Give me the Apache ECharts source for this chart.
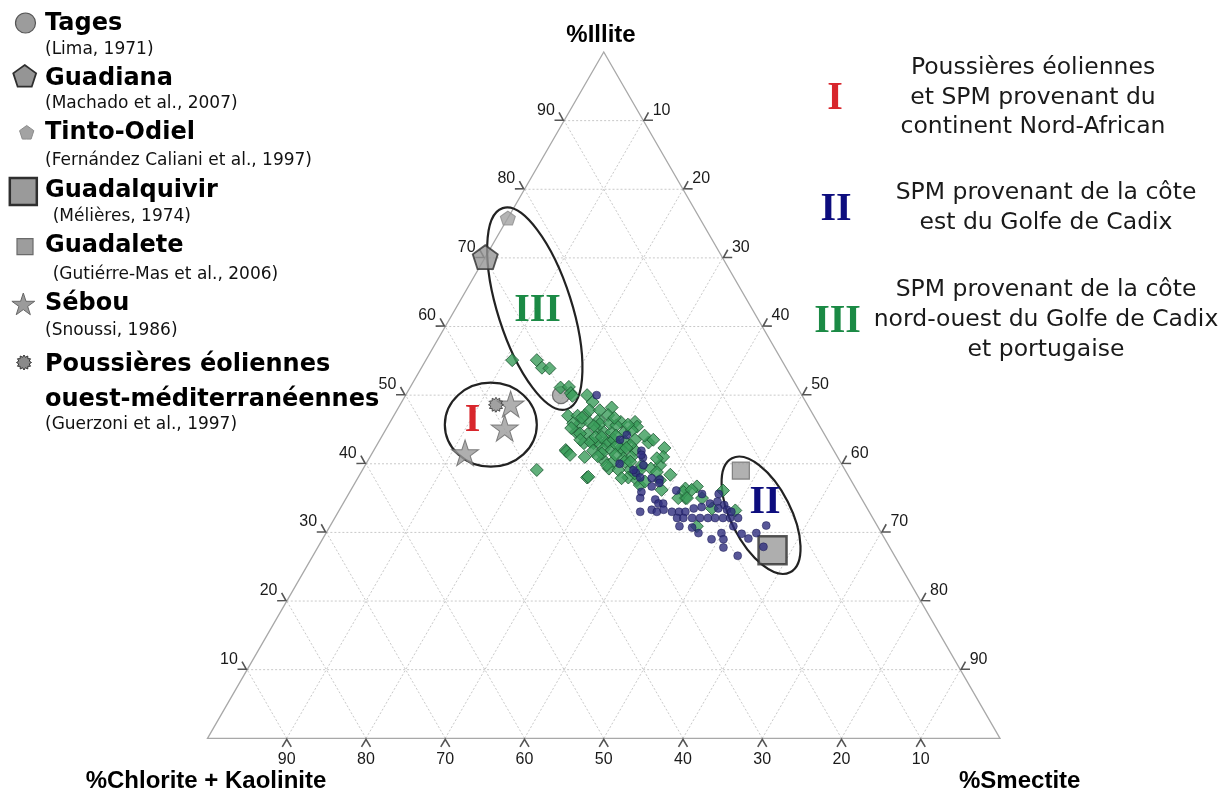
<!DOCTYPE html>
<html><head><meta charset="utf-8">
<script src="https://cdn.jsdelivr.net/npm/echarts@6/dist/echarts.min.js"></script>
<style>html,body{margin:0;padding:0;background:#fff}#c{width:1231px;height:791px}</style>
</head><body><div id="c"></div>
<script>
// ===== DATA (ternary values, in %: [illite, smectite]; chlorite+kaolinite = 100 - illite - smectite) =====
const tickValues = [10, 20, 30, 40, 50, 60, 70, 80, 90];
const axisTitles = ['%Illite', '%Chlorite + Kaolinite', '%Smectite'];

// Group III-type samples (green diamonds)
const greenPoints = [
  [55.1,10.9],[55.1,14.0],[54.0,15.2],[53.9,16.2],[51.1,19.0],[51.2,20.0],[50.3,20.7],[49.9,21.1],[50.0,22.9],[49.0,24.1],
  [48.2,26.9],[47.0,22.0],[47.0,23.2],[47.1,24.1],[47.1,27.0],[45.9,24.1],[46.0,25.2],[46.4,26.2],[46.1,29.1],[44.6,24.2],
  [44.3,25.8],[45.2,26.5],[44.6,27.7],[44.6,28.7],[44.6,30.3],[43.0,26.0],[43.0,27.2],[43.0,28.0],[43.2,29.2],[42.0,24.2],
  [42.3,31.0],[46.1,30.9],[45.4,31.5],[44.9,31.1],[43.2,26.7],[43.1,28.8],[43.5,29.5],[43.2,31.1],[43.5,32.2],[43.1,34.1],
  [43.5,34.5],[41.9,27.7],[42.1,28.9],[42.0,30.0],[42.0,31.3],[42.0,32.9],[42.3,36.5],[41.0,27.1],[40.6,29.6],[40.3,31.0],
  [40.8,32.1],[41.0,33.0],[39.3,36.3],[39.8,37.2],[41.0,37.0],[39.3,31.0],[39.1,32.3],[39.1,33.8],[38.0,28.9],[38.0,34.1],
  [37.6,35.4],[38.4,39.2],[36.2,39.2],[36.9,36.1],[36.4,42.1],[35.0,42.8],[38.6,34.6],[37.6,38.3],[36.7,43.4],[35.9,42.1],
  [36.2,43.0],[35.0,41.9],[35.0,43.0],[35.0,44.9],[36.1,47.0],[33.5,46.9],[33.2,50.0],[30.9,46.3],[39.1,22.0],[38.1,29.0],
  [41.8,24.4],[41.3,25.1],[45.8,26.6],[45.9,27.8],[45.6,28.8],[43.9,27.0],[42.7,30.3],[42.7,32.0],[39.8,34.9],[38.8,37.3],
  [44.4,24.8],[45.9,23.2],[40.3,32.5],[41.5,29.0],[46.7,23.9],[45.5,26.0],[43.9,27.8],[44.1,29.5],[42.3,31.7],[41.1,28.7],
  [39.8,30.5],[41.3,30.8],[40.3,33.2],[39.0,35.0],[43.5,25.3],[45.2,23.3],[47.8,24.3],[47.8,25.6],[46.7,28.0],[45.7,30.2],
  [44.1,33.1],[37.9,33.3],[37.4,36.5],[40.8,36.3]
];
// Group II-type samples (navy circles)
const navyPoints = [
  [50.0,24.1],[44.2,30.8],[43.5,30.3],[41.9,33.8],[40.9,34.5],[40.0,32.0],[38.7,34.7],[37.9,37.1],[37.7,38.2],[37.2,38.4],
  [35.9,36.8],[35.0,37.1],[36.1,41.1],[34.8,39.1],[34.2,39.8],[34.2,40.4],[39.8,35.1],[39.1,34.2],[35.6,44.6],[35.6,46.7],
  [33.0,38.1],[33.3,39.4],[33.0,40.2],[33.3,40.9],[33.0,42.1],[33.0,43.0],[33.0,43.8],[33.5,44.6],[33.7,45.5],[34.2,46.3],
  [34.5,47.1],[34.0,48.2],[33.3,48.9],[33.5,47.7],[32.1,43.2],[32.1,44.0],[32.1,45.1],[32.1,46.1],[32.1,47.1],[32.1,48.0],
  [32.1,49.0],[32.1,49.9],[32.1,50.9],[33.0,49.6],[30.9,44.1],[30.7,45.8],[29.9,47.0],[29.0,49.1],[29.9,49.9],[29.0,50.6],
  [30.9,50.9],[29.8,52.5],[29.1,53.7],[29.9,54.3],[27.8,51.2],[31.0,55.0],[27.9,56.2],[26.6,53.6],[36.7,37.7],[41.3,34.1],
  [38.0,35.6]
];
// Reference sources
const tages = [[50.0,19.6]];
const guadiana = [[70.1,0.0]];
const tintoOdiel = [[75.8,0.0]];
const guadalquivir = [[27.4,57.6]];
const guadalete = [[39.0,47.8]];
const sebou = [[48.7,13.9],[45.2,14.9],[41.6,11.7]];
const poussieres = [[48.6,12.1]];

// Group envelopes (centres, ternary) and group numerals (anchors, ternary)
const groupNames = ['I', 'III', 'II'];
const groupCentres = [[45.7,12.9],[62.6,10.0],[32.5,53.6]];
const numeralAnchors = [[46.3,10.3],[62.3,10.5],[34.3,53.2]];

// Legend texts
const legendItems = [
  {name:'Tages', ref:'(Lima, 1971)'},
  {name:'Guadiana', ref:'(Machado et al., 2007)'},
  {name:'Tinto-Odiel', ref:'(Fernández Caliani et al., 1997)'},
  {name:'Guadalquivir', ref:'(Mélières, 1974)'},
  {name:'Guadalete', ref:'(Gutiérre-Mas et al., 2006)'},
  {name:'Sébou', ref:'(Snoussi, 1986)'},
  {name:'Poussières éoliennes\nouest-méditerranéennes', ref:'(Guerzoni et al., 1997)'}
];
const groupDescriptions = [
  ['Poussières éoliennes','et SPM provenant du','continent Nord-African'],
  ['SPM provenant de la côte','est du Golfe de Cadix'],
  ['SPM provenant de la côte','nord-ouest du Golfe de Cadix','et portugaise']
];

// ===== helpers =====
const H = Math.sqrt(3) / 2;
function toXY(p) { return [p[1] + p[0] / 2, p[0] * H]; }   // [illite, smectite] -> cartesian
function starPts(n, R, r, cx, cy) {
  const pts = [];
  for (let i = 0; i < 2 * n; i++) {
    const a = -Math.PI / 2 + i * Math.PI / n;
    const rr = i % 2 === 0 ? R : r;
    pts.push([cx + rr * Math.cos(a), cy + rr * Math.sin(a)]);
  }
  return pts;
}
function toPath(pts) { return 'path://' + pts.map((p, i) => (i ? 'L' : 'M') + p[0].toFixed(2) + ',' + p[1].toFixed(2)).join(' ') + ' Z'; }
const pentagonPath = toPath(starPts(5, 50, 50 * Math.cos(Math.PI / 5), 50, 50));
const starPath = toPath(starPts(5, 50, 19.1, 50, 50));
const sunPath = toPath(starPts(12, 50, 36, 50, 50));

const FS = '"DejaVu Sans"';
const AR = '"Liberation Sans", Arial';
const SERIF = '"Liberation Serif", "Times New Roman", serif';
const groupColors = ['#d8262c', '#1b8a45', '#0d0d7e'];

// ===== series =====
const gridData = [];
tickValues.forEach(k => { gridData.push([0, k]); gridData.push([1, k]); gridData.push([2, k]); });
function ternLine(kind, k) {
  if (kind === 0) return [[k, 0], [k, 100 - k]];          // const illite
  if (kind === 1) return [[0, k], [100 - k, k]];          // const smectite
  return [[0, 100 - k], [100 - k, 0]];                    // const chlorite+kaolinite
}
const tickData = [];
[0, 1, 2].forEach(e => tickValues.forEach(v => tickData.push([e, v])));

const series = [
  { type: 'custom', silent: true, data: gridData, renderItem: (params, api) => {
      const seg = ternLine(api.value(0), api.value(1));
      const a = api.coord(toXY(seg[0])), b = api.coord(toXY(seg[1]));
      return { type: 'line', shape: { x1: a[0], y1: a[1], x2: b[0], y2: b[1] },
               style: { stroke: '#c9c9c9', lineWidth: 1, lineDash: [2, 2] } };
  } },
  { type: 'custom', silent: true, data: [[0, 0]], renderItem: (params, api) => {
      const pts = [[0, 0], [0, 100], [100, 0]].map(p => api.coord(toXY(p)));
      return { type: 'polygon', shape: { points: pts }, style: { fill: 'none', stroke: '#a8a8a8', lineWidth: 1.3 } };
  } },
  { type: 'custom', silent: true, data: tickData, renderItem: (params, api) => {
      const edge = api.value(0), v = api.value(1);
      let tp, ang;
      if (edge === 0) { tp = [0, 100 - v]; ang = 0; }
      else if (edge === 1) { tp = [v, 0]; ang = 120; }
      else { tp = [100 - v, v]; ang = -120; }
      const p = api.coord(toXY(tp));
      const r = ang * Math.PI / 180, c = Math.cos(r), s = Math.sin(r);
      const rot = (x, y) => [p[0] + x * c - y * s, p[1] + x * s + y * c];
      const lp = rot(0, 21);
      return { type: 'group', children: [
        { type: 'polyline', shape: { points: [rot(-4.5, 8.5), rot(0, 1), rot(4.5, 8.5)] },
          style: { stroke: '#555', lineWidth: 1.6, fill: null } },
        { type: 'text', x: lp[0], y: lp[1], style: { text: String(v), font: '16px ' + AR, fill: '#1a1a1a',
          align: 'center', verticalAlign: 'middle', textAlign: 'center', textVerticalAlign: 'middle' } }
      ] };
  } },
  { type: 'scatter', name: 'Guadalquivir', clip: false, data: guadalquivir.map(toXY), symbol: 'rect', symbolSize: 28,
    itemStyle: { color: '#9a9a9a', borderColor: '#2f2f2f', borderWidth: 2.5 } },
  { type: 'scatter', name: 'Guadalete', clip: false, data: guadalete.map(toXY), symbol: 'rect', symbolSize: 17,
    itemStyle: { color: '#9d9d9d', borderColor: '#6a6a6a', borderWidth: 1.2 } },
  { type: 'scatter', name: 'Tages', clip: false, data: tages.map(toXY), symbol: 'circle', symbolSize: 17,
    itemStyle: { color: '#9c9c9c', borderColor: '#555', borderWidth: 1.2 } },
  { type: 'scatter', name: 'Guadiana', clip: false, data: guadiana.map(toXY), symbol: pentagonPath, symbolSize: [25, 24],
    itemStyle: { color: '#959595', borderColor: '#2e2e2e', borderWidth: 1.8 } },
  { type: 'scatter', name: 'Tinto-Odiel', clip: false, data: tintoOdiel.map(toXY), symbol: pentagonPath, symbolSize: [15, 14],
    itemStyle: { color: '#a3a3a3', borderColor: '#8c8c8c', borderWidth: 1 } },
  { type: 'scatter', name: 'Sébou', clip: false, data: sebou.map(toXY), symbol: starPath, symbolSize: [27, 26],
    itemStyle: { color: '#9b9b9b', borderColor: '#666', borderWidth: 1 } },
  { type: 'scatter', name: 'Poussières', clip: false, data: poussieres.map(toXY), symbol: sunPath, symbolSize: 15,
    itemStyle: { color: '#8a8a8a', borderColor: '#333', borderWidth: 1 } },
  { type: 'scatter', name: 'green', clip: false, data: greenPoints.map(toXY), symbol: 'diamond', symbolSize: 13,
    itemStyle: { color: '#3a9c5a', borderColor: '#1a5530', borderWidth: 1 } },
  { type: 'scatter', name: 'navy', clip: false, data: navyPoints.map(toXY), symbol: 'circle', symbolSize: 8,
    itemStyle: { color: '#2e2d7e', borderColor: '#181850', borderWidth: 0.6 } },
  { type: 'custom', silent: true, data: groupCentres, renderItem: (params, api) => {
      const shapes = [{ rx: 46, ry: 42, rot: 0 }, { rx: 37, ry: 105.5, rot: 17.7 }, { rx: 30, ry: 64, rot: 27 }];
      const e = shapes[params.dataIndex];
      const p = api.coord(toXY([api.value(0), api.value(1)]));
      return { type: 'ellipse', x: p[0], y: p[1], rotation: e.rot * Math.PI / 180,
               shape: { cx: 0, cy: 0, rx: e.rx, ry: e.ry }, style: { fill: 'none', stroke: '#222', lineWidth: 2.2 } };
  } },
  { type: 'custom', silent: true, data: numeralAnchors, renderItem: (params, api) => {
      const p = api.coord(toXY([api.value(0), api.value(1)]));
      return { type: 'text', x: p[0], y: p[1], style: { text: groupNames[params.dataIndex], font: 'bold 40px ' + SERIF,
        fill: groupColors[params.dataIndex], align: 'center', verticalAlign: 'middle', textAlign: 'center', textVerticalAlign: 'middle' } };
  } }
];

// ===== graphic: titles and legends =====
function txt(x, y, text, font, fill, align) {
  return { type: 'text', x: x, y: y, silent: true, style: { text: text, font: font, fill: fill || '#000',
    align: align || 'left', verticalAlign: 'middle', textAlign: align || 'left', textVerticalAlign: 'middle' } };
}
const gfx = [];
gfx.push(txt(601, 35, axisTitles[0], 'bold 24px ' + AR, '#000', 'center'));
gfx.push(txt(206, 781, axisTitles[1], 'bold 24px ' + AR, '#000', 'center'));
gfx.push(txt(959, 781, axisTitles[2], 'bold 24px ' + AR, '#000', 'left'));

// left legend
const legLayout = [
  { sym: 'circle', sx: 25.5, sy: 23, size: 20, ty: 23.5, rx: 45, ry: 50 },
  { sym: 'pentagon', sx: 24.7, sy: 76, size: 24, ty: 78.5, rx: 45, ry: 104 },
  { sym: 'pentagonS', sx: 26.7, sy: 132.5, size: 15, ty: 133, rx: 45, ry: 161 },
  { sym: 'rectL', sx: 23.3, sy: 191.5, size: 27, ty: 191, rx: 52.7, ry: 217 },
  { sym: 'rectS', sx: 25, sy: 246.7, size: 16, ty: 246, rx: 52.7, ry: 275 },
  { sym: 'star', sx: 23.3, sy: 303.5, size: 24, ty: 303.5, rx: 45, ry: 331 },
  { sym: 'sun', sx: 24, sy: 362.5, size: 15, ty: 365, rx: 45, ry: 425 }
];
legendItems.forEach((it, i) => {
  const L = legLayout[i];
  const h = L.size / 2;
  if (L.sym === 'circle') gfx.push({ type: 'circle', shape: { cx: L.sx, cy: L.sy, r: h }, style: { fill: '#9c9c9c', stroke: '#555', lineWidth: 1.2 } });
  else if (L.sym === 'pentagon') gfx.push({ type: 'polygon', shape: { points: starPts(5, h, h * Math.cos(Math.PI / 5), L.sx, L.sy + 1) }, style: { fill: '#959595', stroke: '#2e2e2e', lineWidth: 1.8 } });
  else if (L.sym === 'pentagonS') gfx.push({ type: 'polygon', shape: { points: starPts(5, h, h * Math.cos(Math.PI / 5), L.sx, L.sy + 0.5) }, style: { fill: '#a3a3a3', stroke: '#8c8c8c', lineWidth: 1 } });
  else if (L.sym === 'rectL') gfx.push({ type: 'rect', shape: { x: L.sx - h, y: L.sy - h, width: L.size, height: L.size }, style: { fill: '#9a9a9a', stroke: '#2f2f2f', lineWidth: 2.5 } });
  else if (L.sym === 'rectS') gfx.push({ type: 'rect', shape: { x: L.sx - h, y: L.sy - h, width: L.size, height: L.size }, style: { fill: '#9d9d9d', stroke: '#6a6a6a', lineWidth: 1.2 } });
  else if (L.sym === 'star') gfx.push({ type: 'polygon', shape: { points: starPts(5, h, h * 0.382, L.sx, L.sy + 1.5) }, style: { fill: '#9b9b9b', stroke: '#666', lineWidth: 1 } });
  else if (L.sym === 'sun') gfx.push({ type: 'polygon', shape: { points: starPts(12, h, h * 0.72, L.sx, L.sy) }, style: { fill: '#8a8a8a', stroke: '#333', lineWidth: 1 } });
  const lines = it.name.split('\n');
  lines.forEach((ln, j) => gfx.push(txt(45, L.ty + j * 35, ln, 'bold 24px ' + FS, '#000')));
  gfx.push(txt(L.rx, L.ry, it.ref, '17px ' + FS, '#111'));
});

// right legend
const rightLayout = [
  { nx: 835, ny: 99, cx: 1033, ys: [68.3, 98.3, 126.7] },
  { nx: 836, ny: 210, cx: 1046, ys: [193.3, 223.3] },
  { nx: 837.5, ny: 321.7, cx: 1046, ys: [290, 320, 350] }
];
groupDescriptions.forEach((lines, i) => {
  const L = rightLayout[i];
  const name = ['I', 'II', 'III'][i];
  const col = ['#d8262c', '#0d0d7e', '#1b8a45'][i];
  gfx.push(txt(L.nx, L.ny, name, 'bold 40px ' + SERIF, col, 'center'));
  lines.forEach((ln, j) => gfx.push(txt(L.cx, L.ys[j], ln, '23.5px ' + FS, '#1a1a1a', 'center')));
});

const chart = echarts.init(document.getElementById('c'), null, { renderer: 'canvas' });
chart.setOption({
  animation: false,
  backgroundColor: '#fff',
  grid: { left: 207.5, right: 231, top: 52, bottom: 52.7, containLabel: false },
  xAxis: { type: 'value', min: 0, max: 100, show: false },
  yAxis: { type: 'value', min: 0, max: 100 * H, show: false },
  series: series,
  graphic: gfx
});
</script></body></html>
